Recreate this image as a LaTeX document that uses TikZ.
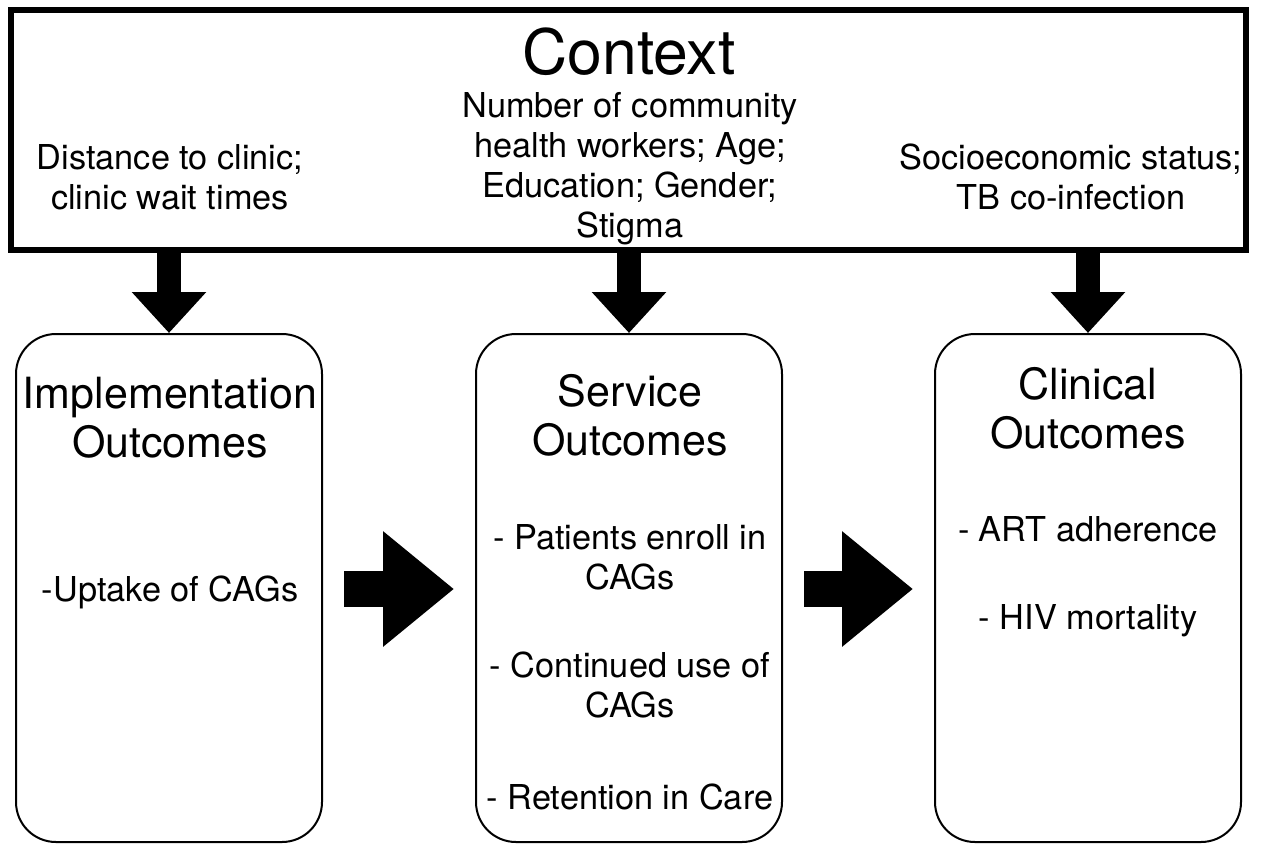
\documentclass[tikz,border=0pt]{standalone}
\usepackage{fontspec}
\setmainfont{TeX Gyre Heros}
\usetikzlibrary{arrows.meta}

\begin{document}
\begin{tikzpicture} [x=1pt, y=-1pt,
        outcome/.style={draw, line width=2pt, rounded corners=40pt, minimum width=306pt, minimum height=508pt, inner sep=0pt},
        item/.style={align=center, font=\fontsize{34.3}{40}\selectfont},
        title/.style={align=center, font=\fontsize{43}{49}\selectfont},
        downarrow/.style={line width=24pt, -{Triangle[length=41pt, width=72pt]}},
        rightarrow/.style={line width=36pt, -{Triangle[length=71pt, width=111pt]}, shorten <=21pt, shorten >=21pt}]
            \useasboundingbox (0, 0) rectangle (1261, 844);

            \node[draw, line width=6.5pt, minimum width=1235pt, minimum height=240pt, inner sep=0pt] (ctx) at (628.5, 130) {};
            \node (impl) at (169, 588)   [outcome] {};
            \node (serv) at (629, 588)   [outcome] {};
            \node (clin) at (1088, 588)  [outcome] {};

            \node (ctxt) at (629, 52) [font=\fontsize{62.5}{70}\selectfont] {Context};
            \node (ctxl) at (170, 177)  [item] {Distance to clinic;\\clinic wait times};
            \node (ctxm) at (630, 169)  [item] {Number of community\\health workers; Age;\\Education; Gender;\\Stigma};
            \node (ctxr) at (1071, 177) [item] {Socioeconomic status;\\TB co-infection};

            \node (implt) at (170, 418)  [title] {Implementation\\Outcomes};
            \node (servt) at (630, 415)  [title] {Service\\Outcomes};
            \node (clint) at (1088, 408) [title] {Clinical\\Outcomes};

            \node (upt)  at (170, 592)   [item] {-Uptake of CAGs};
            \node (enr)  at (630, 557)   [item] {- Patients enroll in\\CAGs};
            \node (cont) at (630, 685)   [item] {- Continued use of\\CAGs};
            \node (ret)  at (630, 797)   [item] {- Retention in Care};
            \node (art)  at (1088, 529)  [item] {- ART adherence};
            \node (hiv)  at (1088, 621)  [item] {- HIV mortality};

            \draw[downarrow] (ctx.south -| impl.north) -- (impl.north);
            \draw[downarrow] (ctx.south -| serv.north) -- (serv.north);
            \draw[downarrow] (ctx.south -| clin.north) -- (clin.north);
            \draw[rightarrow] (impl.east |- 0, 589) -- (serv.west |- 0, 589);
            \draw[rightarrow] (serv.east |- 0, 589) -- (clin.west |- 0, 589);
        \end{tikzpicture}
\end{document}
